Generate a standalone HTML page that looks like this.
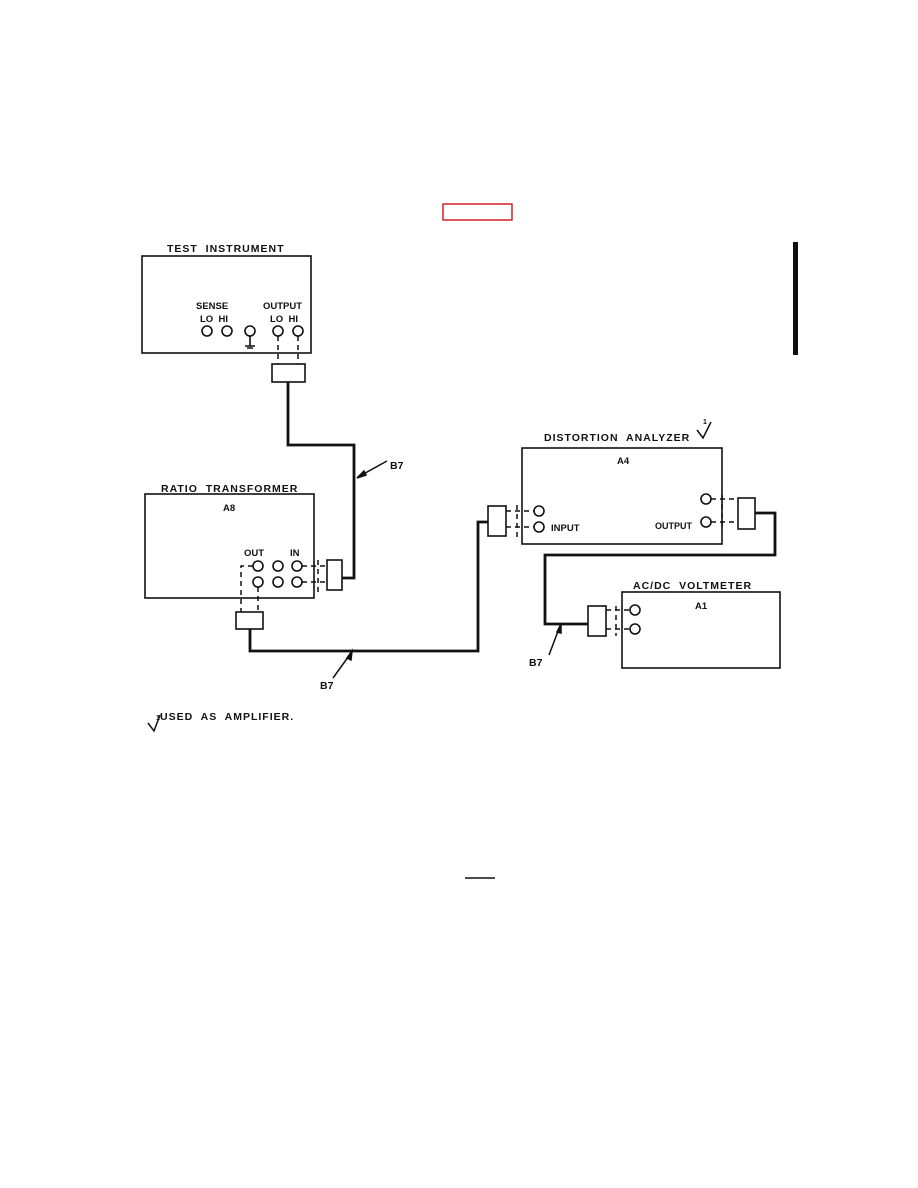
<!DOCTYPE html>
<html><head><style>body{margin:0;background:#fff}svg{display:block}text{font-family:"Liberation Sans",sans-serif;font-weight:bold;fill:#111;white-space:pre}</style></head><body>
<svg width="918" height="1188" viewBox="0 0 918 1188" xmlns="http://www.w3.org/2000/svg">
<rect x="443" y="204" width="69" height="16" fill="none" stroke="#c00" stroke-width="1.3"/>
<rect x="793" y="242" width="5" height="113" fill="#111"/>
<g fill="none" stroke="#111" stroke-width="1.6">
<rect x="142" y="256" width="169" height="97"/>
<rect x="145" y="494" width="169" height="104"/>
<rect x="522" y="448" width="200" height="96"/>
<rect x="622" y="592" width="158" height="76"/>
<circle cx="207" cy="331" r="5"/><circle cx="227" cy="331" r="5"/><circle cx="250" cy="331" r="5"/>
<circle cx="278" cy="331" r="5"/><circle cx="298" cy="331" r="5"/>
<circle cx="258" cy="566" r="5"/><circle cx="278" cy="566" r="5"/><circle cx="297" cy="566" r="5"/>
<circle cx="258" cy="582" r="5"/><circle cx="278" cy="582" r="5"/><circle cx="297" cy="582" r="5"/>
<circle cx="539" cy="511" r="5"/><circle cx="539" cy="527" r="5"/>
<circle cx="706" cy="499" r="5"/><circle cx="706" cy="522" r="5"/>
<circle cx="635" cy="610" r="5"/><circle cx="635" cy="629" r="5"/>
<rect x="272" y="364" width="33" height="18"/>
<rect x="327" y="560" width="15" height="30"/>
<rect x="236" y="612" width="27" height="17"/>
<rect x="488" y="506" width="18" height="30"/>
<rect x="738" y="498" width="17" height="31"/>
<rect x="588" y="606" width="18" height="30"/>
<path d="M250 336v10M245 346h10M247 348h6"/>
</g>
<g fill="none" stroke="#111" stroke-width="1.5" stroke-dasharray="5,4">
<path d="M278 336v28M298 336v28"/>
<path d="M302 566h25M302 582h25M318 560v32"/>
<path d="M253 566h-12v46M258 587v25"/>
<path d="M506 511h28M506 527h28M517 505v35"/>
<path d="M711 499h27M711 522h27M722 495v32"/>
<path d="M606 610h24M606 629h24M616 606v30"/>
</g>
<g fill="none" stroke="#111" stroke-width="2.8">
<path d="M288 382V445h66v133h-12"/>
<path d="M250 629v22h228v-129h10"/>
<path d="M755 513h20v42h-230v69h43"/>
</g>
<g stroke="#111" stroke-width="1.5" fill="#111">
<path d="M387 461L358 477"/><path d="M357 478l7-7l2 4z"/>
<path d="M333 678L351 653"/><path d="M352 651l-1 9l-4-2z"/>
<path d="M549 655L560 626"/><path d="M561 624l0 9l-4-1z"/>
<path d="M148 723l6 8l6-16M697 430l6 8l8-16" fill="none"/>
</g>
<path d="M465 878h30" stroke="#111" stroke-width="1.5"/>
<g font-size="10.5">
<text x="167" y="252" letter-spacing="1">TEST  INSTRUMENT</text>
<text x="196" y="309" font-size="9.5">SENSE</text>
<text x="200" y="322" font-size="9.5">LO  HI</text>
<text x="263" y="309" font-size="9.5">OUTPUT</text>
<text x="270" y="322" font-size="9.5">LO  HI</text>
<text x="161" y="492" letter-spacing="1">RATIO  TRANSFORMER</text>
<text x="223" y="511" font-size="9.5">A8</text>
<text x="244" y="556" font-size="9.5">OUT</text>
<text x="290" y="556" font-size="9.5">IN</text>
<text x="544" y="441" letter-spacing="1">DISTORTION  ANALYZER</text>
<text x="617" y="464" font-size="9.5">A4</text>
<text x="551" y="531" font-size="9.5">INPUT</text>
<text x="655" y="529" font-size="9">OUTPUT</text>
<text x="633" y="589" letter-spacing="1">AC/DC  VOLTMETER</text>
<text x="695" y="609" font-size="9.5">A1</text>
<text x="390" y="469">B7</text>
<text x="320" y="689">B7</text>
<text x="529" y="666">B7</text>
<text x="160" y="720" letter-spacing="1">USED  AS  AMPLIFIER.</text>
<text x="156" y="720" font-size="7">1</text>
<text x="703" y="424" font-size="7">1</text>
</g>
</svg>
</body></html>
